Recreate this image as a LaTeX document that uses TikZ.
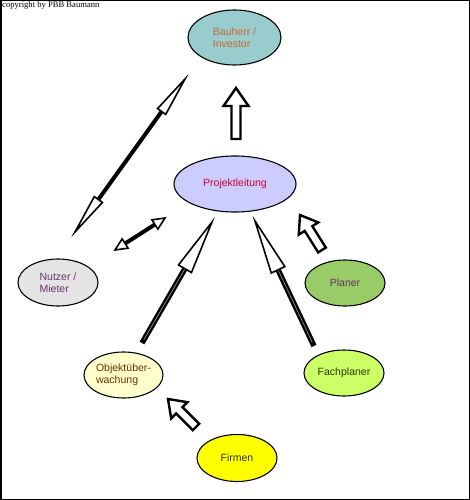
\documentclass[tikz,border=0pt]{standalone}
\usepackage{fontspec}
\setmainfont{Liberation Sans}
\newfontfamily\copyfont{Liberation Serif}
\usetikzlibrary{shapes.geometric,calc}
\definecolor{cBau}{RGB}{153,204,204}
\definecolor{tBau}{RGB}{204,102,51}
\definecolor{cPro}{RGB}{204,204,255}
\definecolor{tPro}{RGB}{204,0,51}
\definecolor{cNut}{RGB}{228,228,228}
\definecolor{tPur}{RGB}{102,51,102}
\definecolor{cPla}{RGB}{153,204,102}
\definecolor{cObj}{RGB}{255,255,204}
\definecolor{tObj}{RGB}{102,51,0}
\definecolor{cFach}{RGB}{204,255,102}
\definecolor{tDark}{RGB}{51,51,0}
\definecolor{cFir}{RGB}{255,255,0}
\tikzset{
  role/.style={ellipse, draw=black, line width=1.1pt, inner sep=0pt,
    align=left, font=\fontsize{10.5}{12.5}\selectfont},
  shaft/.style={line width=4pt, black},
  wideshaft/.style={line width=5.5pt, black},
  openhead/.style={draw=black, fill=white, line width=1.6pt, line join=miter},
  blockarr/.style={draw=black, fill=white, line width=2.4pt, line join=miter},
}
% open narrow arrow head: tip, point toward tail, length, half width
\newcommand\openhead[4]{%
  \coordinate (oh-b) at ($(#1)!#3!(#2)$);
  \path[openhead] (#1) -- ($(oh-b)!#4!90:(#1)$) -- ($(oh-b)!#4!-90:(#1)$) -- cycle;}
% block arrow: tail, tip, shaft half width, head half width, head length
\newcommand\blockarrow[5]{%
  \coordinate (ba-h) at ($(#2)!#5!(#1)$);
  \path[blockarr] ($(#1)!#3!90:(#2)$) -- ($(ba-h)!#3!-90:(#1)$)
    -- ($(ba-h)!#4!-90:(#1)$) -- (#2) -- ($(ba-h)!#4!90:(#1)$)
    -- ($(ba-h)!#3!90:(#1)$) -- ($(#1)!#3!-90:(#2)$) -- cycle;}
\begin{document}
\begin{tikzpicture}[x=1pt, y=-1pt]
\useasboundingbox (0,0) rectangle (470,500);
\draw[line width=1.5pt] (0.75,0.75) rectangle (469.25,499.25);
\node[anchor=north west, inner sep=0pt, font=\copyfont\fontsize{8.6}{10}\selectfont] (copy) at (2,1.8) {copyright by PBB Baumann};

\node[role, fill=cBau, text=tBau, minimum width=93pt, minimum height=55pt] (bau) at (234.5,37.5) {Bauherr /\\Investor};
\node[role, fill=cPro, text=tPro, minimum width=122pt, minimum height=56pt] (pro) at (235,184) {Projektleitung};
\node[role, fill=cNut, text=tPur, minimum width=80pt, minimum height=47pt] (nut) at (58,282.5) {Nutzer /\\Mieter};
\node[role, fill=cPla, text=tPur, minimum width=80pt, minimum height=46pt] (pla) at (345,283) {Planer};
\node[role, fill=cObj, text=tObj, minimum width=79pt, minimum height=46pt] (obj) at (123.5,375) {Objekt\"uber-\\wachung};
\node[role, fill=cFach, text=tDark, minimum width=80pt, minimum height=46pt] (fach) at (344,373) {Fachplaner};
\node[role, fill=cFir, text=tDark, minimum width=80pt, minimum height=47pt] (fir) at (237,458) {Firmen};

% free ends of the connectors
\coordinate (a1s) at (75,232);  \coordinate (a1e) at (185,79);
\coordinate (a2s) at (236,139); \coordinate (a2e) at (236,88);
\coordinate (a3s) at (115,250); \coordinate (a3e) at (165,218);
\coordinate (a4s) at (142,343); \coordinate (a4e) at (212,222);
\coordinate (a5s) at (314,346); \coordinate (a5e) at (255,221);
\coordinate (a6s) at (322,250); \coordinate (a6e) at (300,215);
\coordinate (a7s) at (196,427); \coordinate (a7e) at (168,399);

% Nutzer <-> Bauherr
\draw[shaft, shorten <=34pt, shorten >=34pt] (a1s) -- (a1e);
\openhead{a1e}{a1s}{40pt}{5pt}
\openhead{a1s}{a1e}{40pt}{5pt}
% Projektleitung -> Bauherr
\blockarrow{a2s}{a2e}{4.5pt}{12.5pt}{18pt}
% Nutzer <-> Projektleitung
\draw[shaft, shorten <=9pt, shorten >=9pt] (a3s) -- (a3e);
\openhead{a3e}{a3s}{12pt}{5.5pt}
\openhead{a3s}{a3e}{12pt}{5.5pt}
% Objektueberwachung -> Projektleitung
\draw[wideshaft, shorten >=48pt] (a4s) -- (a4e);
\draw[white!70!black, line width=0.5pt, shorten >=52pt, shorten <=4pt] (a4s) -- (a4e);
\openhead{a4e}{a4s}{54pt}{7.5pt}
% Fachplaner -> Projektleitung
\draw[wideshaft, shorten >=48pt] (a5s) -- (a5e);
\draw[white!70!black, line width=0.5pt, shorten >=52pt, shorten <=4pt] (a5s) -- (a5e);
\openhead{a5e}{a5s}{54pt}{7.5pt}
% Planer -> Projektleitung
\blockarrow{a6s}{a6e}{4.5pt}{11.5pt}{16pt}
% Firmen -> Objektueberwachung
\blockarrow{a7s}{a7e}{4.5pt}{11.5pt}{16pt}
\end{tikzpicture}
\end{document}
